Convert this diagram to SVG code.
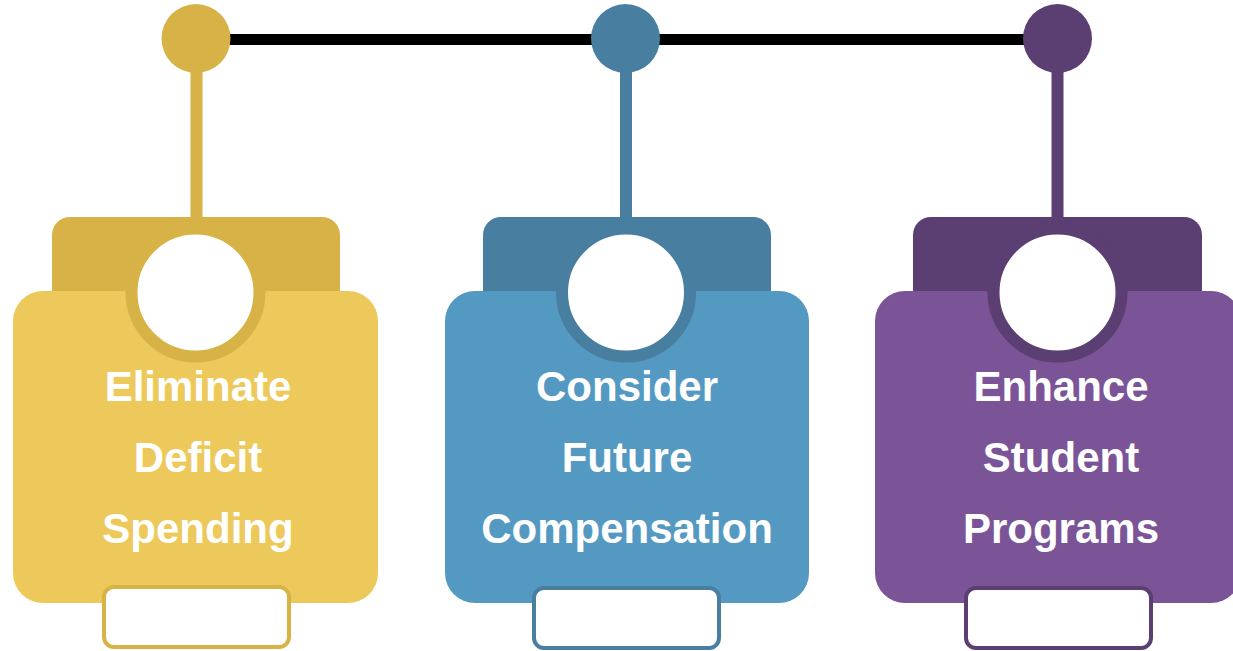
<svg xmlns="http://www.w3.org/2000/svg" width="1233" height="651" viewBox="0 0 1233 651">
  <style>
    .label { font-family: "Liberation Sans", Arial, sans-serif; font-weight: bold; font-size: 42px; fill: #ffffff; text-anchor: middle; }
    .slot { fill: #ffffff; stroke-width: 4; }
    .hole { fill: #ffffff; stroke-width: 12; }
    .y-dark { fill: #D7B347; } .y-light { fill: #EDC95B; } .y-line { stroke: #D7B347; }
    .b-dark { fill: #487EA0; } .b-light { fill: #5499C2; } .b-line { stroke: #487EA0; }
    .p-dark { fill: #5B3E72; } .p-light { fill: #7B5498; } .p-line { stroke: #5B3E72; }
  </style>
  <rect width="1233" height="651" fill="#ffffff"/>

  <!-- connectors: the rail plus the hanging stems -->
  <g id="connectors">
    <line x1="196" y1="39.5" x2="1058" y2="39.5" stroke="#000000" stroke-width="11"/>
    <line class="y-line" x1="196.5" y1="40" x2="196.5" y2="222" stroke-width="12"/>
    <line class="b-line" x1="626" y1="40" x2="626" y2="222" stroke-width="12"/>
    <line class="p-line" x1="1057.5" y1="40" x2="1057.5" y2="222" stroke-width="12"/>
  </g>

  <g id="node-deficit">
    <circle class="y-dark" cx="196" cy="38.5" r="34.5"/>
    <rect class="y-dark" x="52" y="217" width="288" height="120" rx="18"/>
    <rect class="y-light" x="13" y="291" width="365" height="312" rx="30"/>
    <circle class="hole y-line" cx="195.5" cy="292.5" r="64"/>
    <rect class="slot y-line" x="104" y="587" width="185" height="60" rx="10"/>
    <text class="label" x="198" y="401">Eliminate</text>
    <text class="label" x="198" y="472">Deficit</text>
    <text class="label" x="198" y="543">Spending</text>
  </g>

  <g id="node-compensation">
    <circle class="b-dark" cx="625.5" cy="38.5" r="34.5"/>
    <rect class="b-dark" x="483" y="217" width="288" height="120" rx="18"/>
    <rect class="b-light" x="445" y="291" width="364" height="312" rx="30"/>
    <circle class="hole b-line" cx="626" cy="292.5" r="64"/>
    <rect class="slot b-line" x="534" y="588" width="185" height="60" rx="10"/>
    <text class="label" x="627" y="401">Consider</text>
    <text class="label" x="627" y="472">Future</text>
    <text class="label" x="627" y="543">Compensation</text>
  </g>

  <g id="node-programs">
    <circle class="p-dark" cx="1057.5" cy="38.5" r="34.5"/>
    <rect class="p-dark" x="913" y="217" width="289" height="120" rx="18"/>
    <rect class="p-light" x="875" y="291" width="366" height="312" rx="30"/>
    <circle class="hole p-line" cx="1057.5" cy="292.5" r="64"/>
    <rect class="slot p-line" x="966" y="588" width="185" height="60" rx="10"/>
    <text class="label" x="1061" y="401">Enhance</text>
    <text class="label" x="1061" y="472">Student</text>
    <text class="label" x="1061" y="543">Programs</text>
  </g>
</svg>
